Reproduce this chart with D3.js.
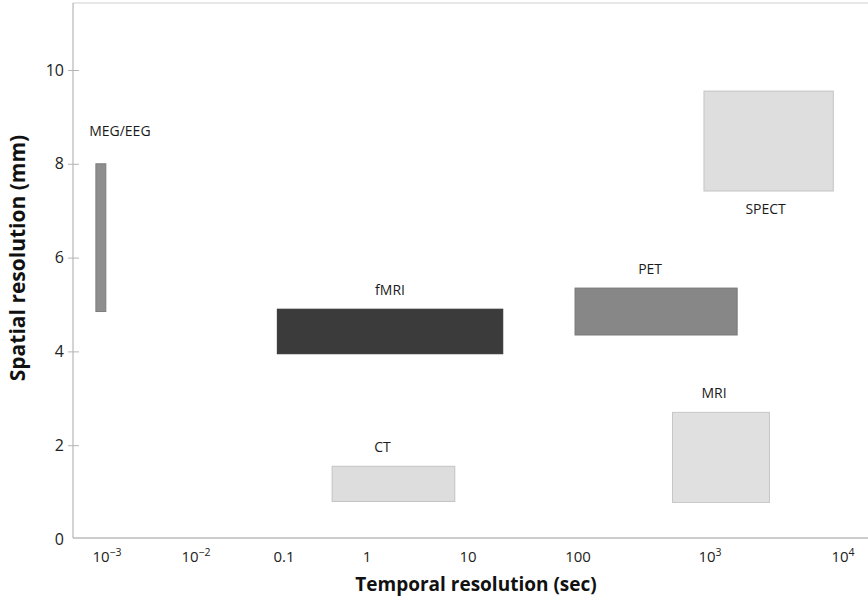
<!DOCTYPE html>
<html>
<head>
<meta charset="utf-8">
<script src="https://cdn.jsdelivr.net/npm/d3@7"></script>
<style>
  body { margin: 0; background: #fff; }
  svg { display: block; }
</style>
</head>
<body>
<svg id="chart" width="868" height="601"></svg>
<script>
// imaging methods, temporal range (sec) x spatial range (mm)
const methods = ["MEG/EEG", "fMRI", "PET", "SPECT", "CT", "MRI"];
const timeMin = [7.5e-4, 0.084, 94, 900, 0.38, 520];
const timeMax = [9.7e-4, 20.7, 1600, 8450, 7.4, 2800];
const spaceMin = [4.85, 3.95, 4.35, 7.42, 0.8, 0.78];
const spaceMax = [8.0, 4.9, 5.35, 9.55, 1.55, 2.7];
const fills = ["#8e8e8e", "#3b3b3b", "#878787", "#dedede", "#dddddd", "#e0e0e0"];

const xTicks = [1e-3, 1e-2, 0.1, 1, 10, 100, 1e3, 1e4];
const xTickLabels = [["10", "−3"], ["10", "−2"], ["0.1"], ["1"], ["10"], ["100"], ["10", "3"], ["10", "4"]];
const yTicks = [0, 2, 4, 6, 8, 10];

const svg = d3.select('#chart');
const width = +svg.attr('width');

const plotLeft = 73, plotBottom = 538, plotTop = 3;

// the original axis is not evenly spaced per decade, so use a piecewise log scale
const x = d3.scaleLog()
    .domain(xTicks)
    .range([107, 196, 284, 367, 468, 578, 710, 843]);

const y = d3.scaleLinear()
    .domain([0, 10])
    .range([539, 70]);

const labelFont = '"Open Sans", sans-serif';

// frame
svg.append('line')
    .attr('x1', plotLeft).attr('x2', width)
    .attr('y1', plotTop).attr('y2', plotTop)
    .attr('stroke', '#cfcfcf');
svg.append('line')
    .attr('x1', plotLeft).attr('x2', plotLeft)
    .attr('y1', plotTop).attr('y2', plotBottom)
    .attr('stroke', '#a8a8a8');
svg.append('line')
    .attr('x1', plotLeft).attr('x2', width)
    .attr('y1', plotBottom).attr('y2', plotBottom)
    .attr('stroke', '#9a9a9a')
    .attr('stroke-width', 1.2);

// y axis
const yAxis = svg.append('g')
    .attr('transform', `translate(${plotLeft},0)`)
    .call(d3.axisLeft(y).tickValues(yTicks).tickSize(6).tickPadding(8).tickFormat(d3.format('d')));
yAxis.select('.domain').remove();
yAxis.selectAll('.tick line')
    .attr('x1', -5).attr('x2', 6)
    .attr('stroke', '#b5b5b5');
yAxis.selectAll('.tick').filter(d => d === 0).select('line').remove();
yAxis.selectAll('.tick text')
    .attr('x', -9)
    .attr('font-family', labelFont)
    .attr('font-size', 16)
    .attr('fill', '#222');

// x axis labels
const xLab = svg.append('g')
    .selectAll('text')
    .data(xTicks)
    .enter()
    .append('text')
    .attr('x', d => x(d))
    .attr('y', 562)
    .attr('text-anchor', 'middle')
    .attr('font-family', labelFont)
    .attr('font-size', 15)
    .attr('fill', '#222');
xLab.each(function(d, i) {
    const parts = xTickLabels[i];
    const t = d3.select(this);
    t.append('tspan').text(parts[0]);
    if (parts.length > 1) {
        t.append('tspan')
            .attr('dy', -6)
            .attr('font-size', 10.5)
            .text(parts[1]);
    }
});

// boxes
const idx = d3.range(methods.length);
svg.append('g')
    .selectAll('rect')
    .data(idx)
    .enter()
    .append('rect')
    .attr('x', i => x(timeMin[i]))
    .attr('y', i => y(spaceMax[i]))
    .attr('width', i => x(timeMax[i]) - x(timeMin[i]))
    .attr('height', i => y(spaceMin[i]) - y(spaceMax[i]))
    .attr('fill', i => fills[i])
    .attr('stroke', i => d3.color(fills[i]).darker(0.35))
    .attr('stroke-width', 1);

// box labels: above the box, except SPECT which sits below
const labelDx = {"MEG/EEG": 19, "PET": -6, "CT": -11, "MRI": -7, "SPECT": -3};
svg.append('g')
    .selectAll('text')
    .data(idx)
    .enter()
    .append('text')
    .attr('x', i => (x(timeMin[i]) + x(timeMax[i])) / 2 + (labelDx[methods[i]] || 0))
    .attr('y', i => methods[i] === 'SPECT' ? y(spaceMin[i]) + 23
        : y(spaceMax[i]) - (methods[i] === 'MEG/EEG' ? 28 : 14))
    .attr('text-anchor', 'middle')
    .attr('font-family', labelFont)
    .attr('font-size', 14)
    .attr('fill', '#1a1a1a')
    .text(i => methods[i]);

// axis titles
svg.append('text')
    .attr('x', 476)
    .attr('y', 591)
    .attr('text-anchor', 'middle')
    .attr('font-family', labelFont)
    .attr('font-weight', 'bold')
    .attr('font-size', 19)
    .attr('fill', '#111')
    .text('Temporal resolution (sec)');

svg.append('text')
    .attr('transform', 'translate(25,258) rotate(-90)')
    .attr('text-anchor', 'middle')
    .attr('font-family', labelFont)
    .attr('font-weight', 'bold')
    .attr('font-size', 21)
    .attr('fill', '#111')
    .text('Spatial resolution (mm)');
</script>
</body>
</html>
